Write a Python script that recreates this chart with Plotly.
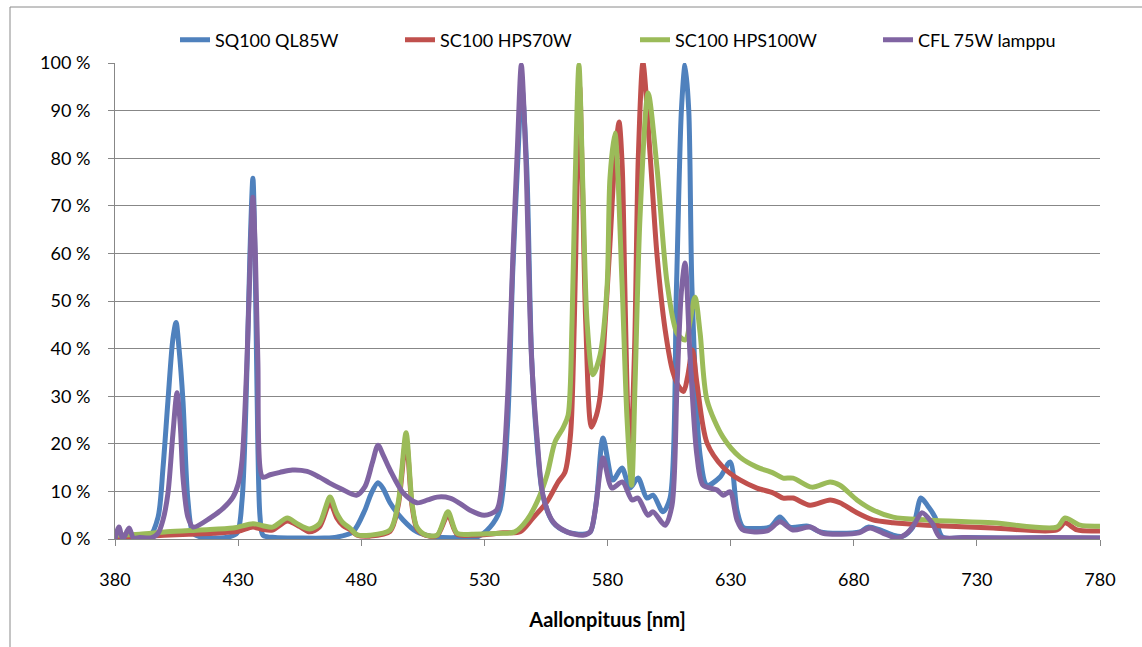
import plotly.graph_objects as go

# ---------------- data ----------------
sq_wl = [380, 385, 390, 394, 397.5, 399.5, 401.5, 403.5, 404.8, 406, 407.6, 409.6, 411.7, 415, 420, 425,
         429.5, 431.6, 433.6, 434.8, 436, 437, 438, 438.9, 440.1, 445, 455, 465, 470, 476.6, 481.5, 484,
         486.8, 489, 491.7, 497, 502.6, 510.8, 520, 527, 532.3, 536.3, 539.4, 541.5, 543.6, 545.2, 547.2,
         549.2, 551.4, 553.8, 557.9, 563.5, 570, 573, 575.5, 578.2, 582.2, 585.9, 589.1, 592.4, 596, 598.5,
         602.5, 605.4, 608, 610, 611.5, 613, 614.3, 617.6, 620.4, 625.7, 629.8, 632.6, 635, 640, 646, 650,
         654, 661.4, 666.3, 674, 682.5, 685.8, 690.7, 696, 700, 704, 707.3, 710, 713, 716, 725, 740, 760, 780]
sq_val = [0.5, 0.4, 0.3, 0.5, 4.6, 15, 29, 42, 45.5, 40, 29, 8.2, 1.2, 0.4, 0.2, 0.3,
          1.2, 8.2, 36, 60, 75.8, 55, 20, 4.6, 0.8, 0.3, 0.2, 0.2, 0.4, 1.5, 6.1, 9.5,
          11.8, 10.5, 7.6, 4, 1.5, 0.4, 0.3, 0.4, 2.5, 6.1, 24, 56, 80, 95, 78,
          38, 20, 9, 3.5, 1.5, 1.0, 1.5, 8, 21.2, 12.4, 14.9, 10.7, 12.8, 8.6, 9.2,
          5.7, 8.6, 52.7, 90, 99.6, 90, 52.7, 17.6, 11.3, 13, 16.2, 6, 2.5, 2.2, 2.5, 4.6,
          2.5, 2.7, 1.5, 1.2, 1.5, 2.5, 1.9, 0.8, 0.6, 2.5, 8.6, 7, 4.6, 0.4, 0.3, 0.2, 0.2, 0.2]

hps70_wl = [380, 390, 400, 410, 420, 430, 436, 440, 444, 450, 455, 459, 463, 467.3, 470, 472.6, 475.4,
            478.3, 483.6, 491.7, 495, 498.2, 500.6, 502.6, 506, 510.8, 515.2, 518.9, 525, 532, 537.6,
            544.5, 549.7, 555.4, 560, 562.7, 565, 566.5, 567.8, 568.7, 569.8, 571.2, 573.5, 575.5, 577, 579,
            581, 583, 584.7, 586, 587, 588.3, 589.3, 591, 592.5, 594.4, 597.3, 600.1, 603.4, 606.6, 609,
            610.9, 612.5, 614.5, 616.3, 620.4, 626.9, 633.8, 640.7, 647.2, 651.3, 655.3, 662.2, 670.4,
            674.4, 681.3, 687.8, 696, 709.7, 736.6, 762.5, 765.8, 770.7, 780]
hps70_val = [0.3, 0.5, 0.8, 1.0, 1.2, 1.6, 2.5, 2.0, 1.9, 3.8, 2.6, 1.5, 2.5, 7.6, 4.5, 2.8, 2,
             0.8, 0.6, 1.6, 7.0, 20.8, 7.0, 2.2, 0.8, 0.7, 5, 1.0, 0.8, 1.0, 1.3,
             1.5, 4.4, 7.8, 12, 14, 22, 45, 78, 95, 75, 45, 23.5, 26, 30, 45,
             62, 80, 87.6, 78, 53.8, 25.6, 18, 40, 80, 100, 80.7, 59.7, 44, 35, 32,
             31, 34, 39.7, 32.8, 20.2, 15.1, 12.4, 10.7, 9.7, 8.6, 8.6, 7.1, 8.2,
             7.6, 5.5, 4, 3.4, 2.9, 2.3, 1.9, 3.4, 1.9, 1.7]

hps100_wl = [380, 390, 401, 414.5, 428, 436, 440, 444, 450, 454, 459, 463, 467.3, 470, 472.6, 475.4,
             478.3, 483.6, 491.7, 495, 498.2, 500.6, 502.6, 506, 510.8, 515.2, 518.9, 525, 532, 536.3,
             542.4, 547.3, 551.4, 555.4, 558.7, 561.9, 564, 565.6, 566.8, 568.4, 570, 571.7, 574.1, 577,
             579.8, 581, 583, 585.9, 587.9, 589.8, 591.2, 593.2, 596.5, 600.1, 604.2, 608.2, 611.5, 615.5,
             617.6, 620.4, 626.9, 633.8, 640.7, 647.2, 651.3, 655.3, 663, 670.4, 674.4, 681.3, 687.8, 696,
             709.7, 736.6, 762.5, 765.8, 771.9, 780]
hps100_val = [0.8, 1.0, 1.5, 1.9, 2.3, 3.2, 2.8, 2.5, 4.4, 3.2, 2.1, 3.2, 8.8, 5.5, 3.4, 2.3,
              0.9, 0.8, 1.9, 7.6, 22.3, 7.6, 2.5, 0.9, 0.8, 5.7, 1.2, 1.0, 1.1, 1.2,
              1.5, 4, 7.8, 13.4, 20.4, 23.3, 26, 45.6, 73.7, 99.6, 73.7, 45.6, 34.5, 38.7,
              52.7, 75.8, 85.3, 53.8, 25.6, 11.3, 32.8, 67.6, 93.7, 78, 53.8, 43.3, 41.8, 50.8,
              43.3, 29.2, 21.4, 17.2, 15.1, 13.9, 12.8, 12.8, 10.9, 12, 11.3, 8.2, 6.1, 4.6,
              4, 3.4, 2.5, 4.4, 2.9, 2.7]

cfl_wl = [380, 381.6, 383.2, 385.7, 387.5, 390, 395, 397.5, 399.5, 401.5, 403.5, 405.2, 406.5, 407.6,
          409.6, 411.7, 418.6, 424, 427.9, 430, 431.6, 433.6, 435, 436, 437, 438, 440, 443, 447, 452,
          458, 463, 467, 472, 478, 481.5, 484.5, 486.8, 489, 491.7, 497, 502.6, 507, 510.8, 516, 520,
          524, 530, 535, 537.6, 539.6, 541.6, 543.4, 545, 546.8, 549.1, 551.4, 553.8, 557.9, 563.5, 570,
          573, 575, 578.2, 581.8, 586, 590, 592.4, 596.4, 598.5, 603.4, 606.2, 608.2, 610, 611.5, 613.5,
          616.3, 618.8, 624.5, 627, 629.8, 632.6, 635, 644.8, 650, 655.3, 662.2, 667.5, 675, 682, 686.6,
          692, 697.6, 701.6, 704.5, 707.7, 711.8, 715, 725, 740, 760, 780]
cfl_val = [0, 2.5, 0, 2.3, 0.2, 0.3, 0.3, 1.2, 4, 9.6, 22, 30.7, 24, 13,
           4.6, 2.5, 4.4, 6.5, 8.8, 11.5, 16.6, 37.6, 60, 71.8, 60, 37.6, 13, 13.5, 14, 14.5,
           14.2, 13, 11.8, 10.5, 9.2, 11, 16, 19.7, 17.5, 14.5, 9.7, 7.6, 8.2, 8.8, 8.6, 7.5,
           6.1, 5, 6.1, 14.5, 31.7, 59.7, 82, 99.6, 80.7, 38.6, 21.2, 9.2, 3.6, 1.5, 0.8,
           1.5, 6, 17, 10.7, 12, 8.2, 8.6, 5, 5.7, 2.9, 7.1, 31.7, 52, 58, 38.7,
           17.6, 11.3, 10.3, 9.2, 9.9, 4, 1.9, 1.7, 3.6, 1.9, 2.5, 1.2, 1.0, 1.3, 2.3,
           1.2, 0.2, 1.2, 3, 5.5, 3.4, 0.4, 0.3, 0.2, 0.3, 0.2]

series_names = ["SQ100 QL85W", "SC100 HPS70W", "SC100 HPS100W", "CFL 75W lamppu"]
series_colors = ["#4F81BD", "#C0504D", "#9BBB59", "#8064A2"]
legend_widths = [180, 190, 198, 175]

x_ticks = [380, 430, 480, 530, 580, 630, 680, 730, 780]
y_ticks = [0, 10, 20, 30, 40, 50, 60, 70, 80, 90, 100]
y_tick_text = [f"{v} %" for v in y_ticks]
x_title = "Aallonpituus [nm]"

FONT = "Lato, 'Open Sans', sans-serif"
GRID = "#878787"

fig = go.Figure()
for wl, vals, name, col, lw in zip([sq_wl, hps70_wl, hps100_wl, cfl_wl],
                                   [sq_val, hps70_val, hps100_val, cfl_val],
                                   series_names, series_colors, legend_widths):
    fig.add_trace(go.Scatter(x=wl, y=vals, name=name, mode="lines", legendwidth=lw,
                             line=dict(color=col, width=5, shape="spline", smoothing=0.8)))

W, H = 1142, 647
ml, mr, mt, mb = 115, 42, 63, 108
pw, ph = W - ml - mr, H - mt - mb

def px_x(p):
    return (p - ml) / pw

def px_y(p):
    return (H - mb - p) / ph

fig.update_layout(
    width=W, height=H,
    margin=dict(l=ml, r=mr, t=mt, b=mb, autoexpand=False),
    paper_bgcolor="white", plot_bgcolor="white",
    font=dict(family=FONT, size=18, color="#000000"),
    showlegend=True,
    legend=dict(orientation="h", x=px_x(175), xanchor="left", y=px_y(40), yanchor="middle",
                font=dict(size=18), bgcolor="rgba(0,0,0,0)", borderwidth=0, tracegroupgap=0),
    xaxis=dict(range=[380, 780], tickvals=x_ticks, ticktext=[str(v) for v in x_ticks],
               showgrid=False, zeroline=False, showline=True, linecolor=GRID, linewidth=1,
               ticks="outside", ticklen=6, tickcolor=GRID, ticklabelstandoff=18,
               tickfont=dict(size=18),
               title=dict(text=f"<b>{x_title}</b>", font=dict(size=20), standoff=24)),
    yaxis=dict(range=[0, 100], tickvals=y_ticks, ticktext=y_tick_text,
               showgrid=True, gridcolor=GRID, gridwidth=1, zeroline=False,
               showline=True, linecolor=GRID, linewidth=1,
               ticks="outside", ticklen=6, tickcolor=GRID, ticklabelstandoff=14,
               tickfont=dict(size=18)),
    shapes=[dict(type="rect", xref="paper", yref="paper",
                 x0=px_x(10), x1=px_x(1160), y0=px_y(680), y1=px_y(7),
                 line=dict(color="#8a8a8a", width=1), layer="below")],
)

fig.write_html("out.html")
